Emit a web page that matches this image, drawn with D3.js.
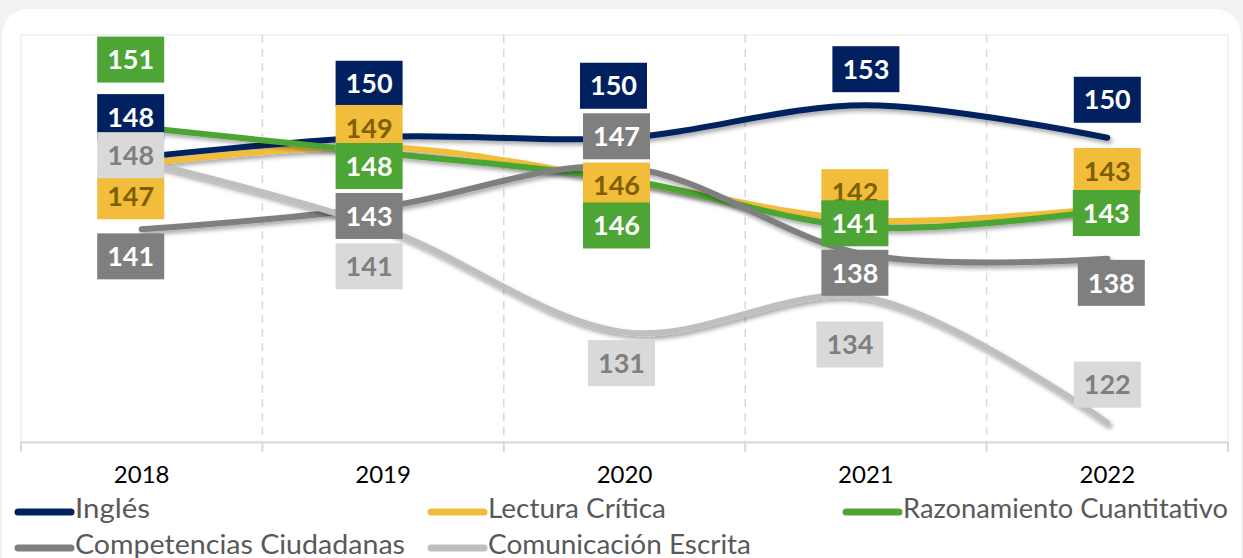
<!DOCTYPE html>
<html>
<head>
<meta charset="utf-8">
<script src="https://cdn.jsdelivr.net/npm/d3@7"></script>
<style>
  body { margin: 0; background: #f2f2f2; }
  svg { display: block; }
</style>
</head>
<body>
<svg id="chart" width="1243" height="558"></svg>
<script>
var years = ["2018", "2019", "2020", "2021", "2022"];
var ingles = [148.0, 150.0, 149.9, 153.1, 149.9];
var lectura = [147.3, 149.0, 145.7, 141.8, 143.0];
var razonamiento = [150.9, 148.4, 145.8, 141.1, 142.8];
var competencias = [140.9, 143.1, 147.0, 138.4, 138.0];
var comunicacion = [147.6, 141.0, 130.8, 134.2, 121.9];
var seriesNames = ["Inglés", "Lectura Crítica", "Razonamiento Cuantitativo", "Competencias Ciudadanas", "Comunicación Escrita"];

// look of each series: line, label box, label text
var styles = [
  { line: "#002060", box: "#002060", text: "#ffffff" },
  { line: "#F1BD3B", box: "#F1BD3B", text: "#7F6000" },
  { line: "#4CA535", box: "#4CA535", text: "#ffffff" },
  { line: "#7F7F7F", box: "#7F7F7F", text: "#ffffff" },
  { line: "#BFBFBF", box: "#D9D9D9", text: "#7F7F7F" }
];

// label box offsets from the point (manually dragged in the original)
var labelOffsets = [
  [[-11, -40], [-14, -53], [-11, -52], [0, -36], [0, -38]],
  [[-11, 32], [-14, -19], [-8, 5], [-11, -28], [0, -37]],
  [[-11, -68], [-14, 13], [-8, 46], [-11, -4], [-1, 3]],
  [[-11, 27], [-14, 9], [-8, -31], [-11, 18], [4, 24]],
  [[-11, -6], [-14, 38], [-3, 31], [-16, 47], [0, -38]]
];

// legend placement and text widths
var legendPos = [[15, 512], [428, 512], [843, 512], [15, 548], [428, 548]];
var legendWidths = [75, 178, 325, 330, 263];

var allValues = [ingles, lectura, razonamiento, competencias, comunicacion];

var svg = d3.select("#chart");
var FONT = "Lato, 'Open Sans', sans-serif";

var defs = svg.append("defs");
var shadow = defs.append("filter").attr("id", "shadow")
  .attr("x", "-10%").attr("y", "-30%").attr("width", "130%").attr("height", "180%");
shadow.append("feDropShadow")
  .attr("dx", 2).attr("dy", 3).attr("stdDeviation", 2)
  .attr("flood-color", "#000").attr("flood-opacity", 0.35);

// card
svg.append("rect")
  .attr("x", 2).attr("y", 9).attr("width", 1239).attr("height", 580)
  .attr("rx", 26).attr("fill", "#ffffff");

var plotLeft = 21, plotRight = 1228, plotTop = 35, plotBottom = 442;

var x = d3.scaleBand().domain(years).range([plotLeft, plotRight]).padding(0);
var y = d3.scaleLinear().domain([120, 160]).range([plotBottom, plotTop]);
var cx = function(d) { return x(d) + x.bandwidth() / 2; };

// plot area border
svg.append("rect")
  .attr("x", plotLeft).attr("y", plotTop)
  .attr("width", plotRight - plotLeft).attr("height", plotBottom - plotTop)
  .attr("fill", "none").attr("stroke", "#f0f0f0").attr("stroke-width", 1.5);

// vertical dashed gridlines at category boundaries
var bounds = years.map(function(d) { return x(d); }).concat([plotRight]);
svg.append("g").selectAll("line")
  .data(bounds.slice(1, -1))
  .enter().append("line")
  .attr("x1", function(d) { return d; }).attr("x2", function(d) { return d; })
  .attr("y1", plotTop).attr("y2", plotBottom)
  .attr("stroke", "#d9d9d9").attr("stroke-width", 1.5)
  .attr("stroke-dasharray", "8,6");

// x axis
var axis = svg.append("g")
  .attr("transform", "translate(0," + plotBottom + ")")
  .call(d3.axisBottom(x).tickSize(0).tickPadding(24));
axis.select(".domain").attr("stroke", "#d9d9d9").attr("stroke-width", 2);
axis.selectAll("text")
  .attr("font-family", FONT).attr("font-size", 24).attr("fill", "#000000");
axis.selectAll(".bound")
  .data(bounds)
  .enter().append("line")
  .attr("class", "bound")
  .attr("x1", function(d) { return d; }).attr("x2", function(d) { return d; })
  .attr("y1", 0).attr("y2", 10)
  .attr("stroke", "#d9d9d9").attr("stroke-width", 2);

// smoothed lines
var line = d3.line()
  .x(function(d, i) { return cx(years[i]); })
  .y(function(d) { return y(d); })
  .curve(d3.curveCatmullRom.alpha(0.5));

svg.append("g").selectAll("path")
  .data(allValues)
  .enter().append("path")
  .attr("d", line)
  .attr("fill", "none")
  .attr("stroke", function(d, i) { return styles[i].line; })
  .attr("stroke-width", 6)
  .attr("stroke-linecap", "round")
  .attr("filter", "url(#shadow)");

// data labels
var BW = 67, BH = 46;
allValues.forEach(function(values, s) {
  var g = svg.append("g");
  values.forEach(function(v, i) {
    var off = labelOffsets[s][i];
    var px = cx(years[i]) + off[0];
    var py = y(v) + off[1];
    g.append("rect")
      .attr("x", px - BW / 2).attr("y", py - BH / 2)
      .attr("width", BW).attr("height", BH)
      .attr("fill", styles[s].box);
    g.append("text")
      .attr("x", px).attr("y", py)
      .attr("dy", "0.36em")
      .attr("text-anchor", "middle")
      .attr("font-family", FONT).attr("font-weight", 700).attr("font-size", 27)
      .attr("fill", styles[s].text)
      .text(Math.round(v));
  });
});

// legend
var legend = svg.append("g").selectAll("g")
  .data(seriesNames)
  .enter().append("g")
  .attr("transform", function(d, i) { return "translate(" + legendPos[i][0] + "," + legendPos[i][1] + ")"; });
legend.append("line")
  .attr("x1", 3).attr("x2", 56).attr("y1", 0).attr("y2", 0)
  .attr("stroke", function(d, i) { return styles[i].line; })
  .attr("stroke-width", 7).attr("stroke-linecap", "round");
legend.append("text")
  .attr("x", 60).attr("y", 6)
  .attr("font-family", FONT).attr("font-size", 27)
  .attr("fill", "#595959")
  .attr("textLength", function(d, i) { return legendWidths[i]; })
  .attr("lengthAdjust", "spacingAndGlyphs")
  .text(function(d) { return d; });
</script>
</body>
</html>
